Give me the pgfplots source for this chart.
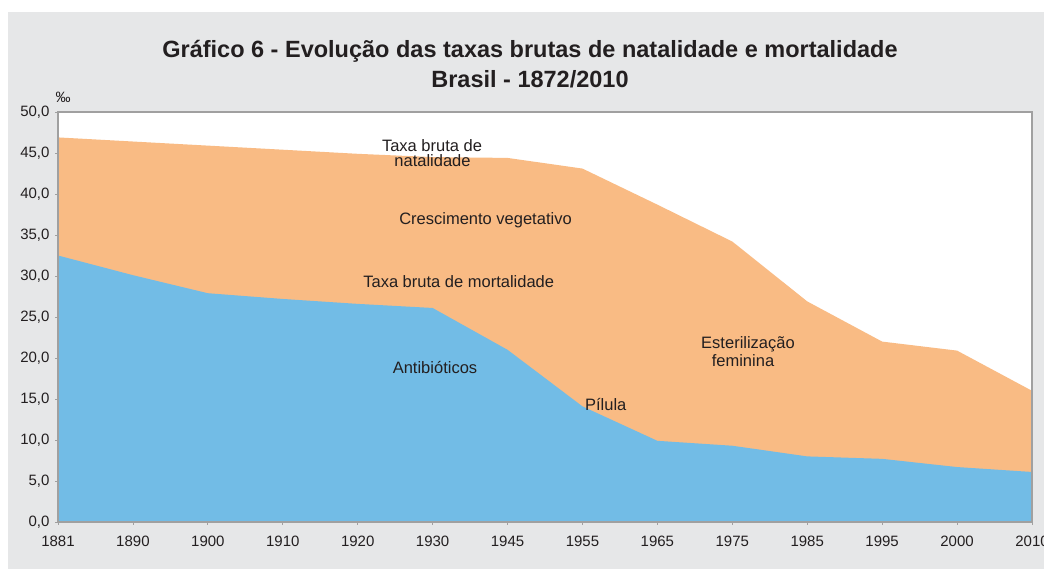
\documentclass[border=0pt]{standalone}
\usepackage{pgfplots}
\pgfplotsset{compat=1.18}
\usepackage{fontspec}
\setmainfont{Liberation Sans}
\definecolor{bgray}{RGB}{230,231,232}
\definecolor{porange}{RGB}{249,187,132}
\definecolor{pblue}{RGB}{114,188,230}
\definecolor{tdark}{RGB}{35,31,32}
\definecolor{axgray}{RGB}{160,160,160}
\begin{document}
\begin{tikzpicture}[x=1pt,y=1pt]
\path[use as bounding box] (0,0) rectangle (1044,569);
\fill[white] (0,0) rectangle (1044,569);
\fill[bgray] (8,0) rectangle (1044,557);
\node[text=tdark,font=\fontsize{23.5}{27}\selectfont\bfseries] at (530,518) {Gráfico 6 - Evolução das taxas brutas de natalidade e mortalidade};
\node[text=tdark,font=\fontsize{23.5}{27}\selectfont\bfseries] at (530,490) {Brasil - 1872/2010};
\node[text=tdark,font=\fontsize{15}{17}\selectfont] at (63,472) {‰};
\begin{axis}[
  at={(58pt,47pt)}, anchor=origin,
  scale only axis, width=974pt, height=410pt,
  xmin=0, xmax=13, ymin=0, ymax=50,
  axis background/.style={fill=white},
  axis line style={axgray, line width=1.2pt},
  xtick={0,...,13},
  xticklabels={1881,1890,1900,1910,1920,1930,1945,1955,1965,1975,1985,1995,2000,2010},
  ytick={0,5,...,50},
  xtick pos=bottom, ytick pos=left,
  tick align=outside,
  major tick length=3pt,
  tick style={axgray, line width=0.8pt},
  ticklabel style={text=tdark, font=\fontsize{15}{17}\selectfont},
  xticklabel style={yshift=-7pt},
  yticklabel style={xshift=-2pt,/pgf/number format/.cd, fixed, fixed zerofill, precision=1, use comma, assume math mode=true},
  clip=true,
  axis on top,
]
\addplot[fill=porange, draw=none] coordinates {
(0,46.9) (1,46.4) (2,45.9) (3,45.4) (4,44.9) (5,44.5) (6,44.4) (7,43.1) (8,38.7) (9,34.2) (10,26.9) (11,22.0) (12,20.9) (13,16.0)
} \closedcycle;
\addplot[fill=pblue, draw=none] coordinates {
(0,32.5) (1,30.1) (2,27.9) (3,27.2) (4,26.6) (5,26.1) (6,21.0) (7,14.1) (8,9.9) (9,9.3) (10,8.0) (11,7.7) (12,6.7) (13,6.1)
} \closedcycle;
\end{axis}
\begin{scope}[every node/.style={text=tdark,font=\fontsize{16.5}{19}\selectfont}]
\node at (432,423.3) {Taxa bruta de};
\node at (432.5,408.3) {natalidade};
\node at (485.5,348.3) {Crescimento vegetativo};
\node at (458.7,287.3) {Taxa bruta de mortalidade};
\node at (435,201) {Antibióticos};
\node at (605.7,164) {Pílula};
\node at (748,225) {Esterilização};
\node at (743,208) {feminina};
\end{scope}
\end{tikzpicture}
\end{document}
